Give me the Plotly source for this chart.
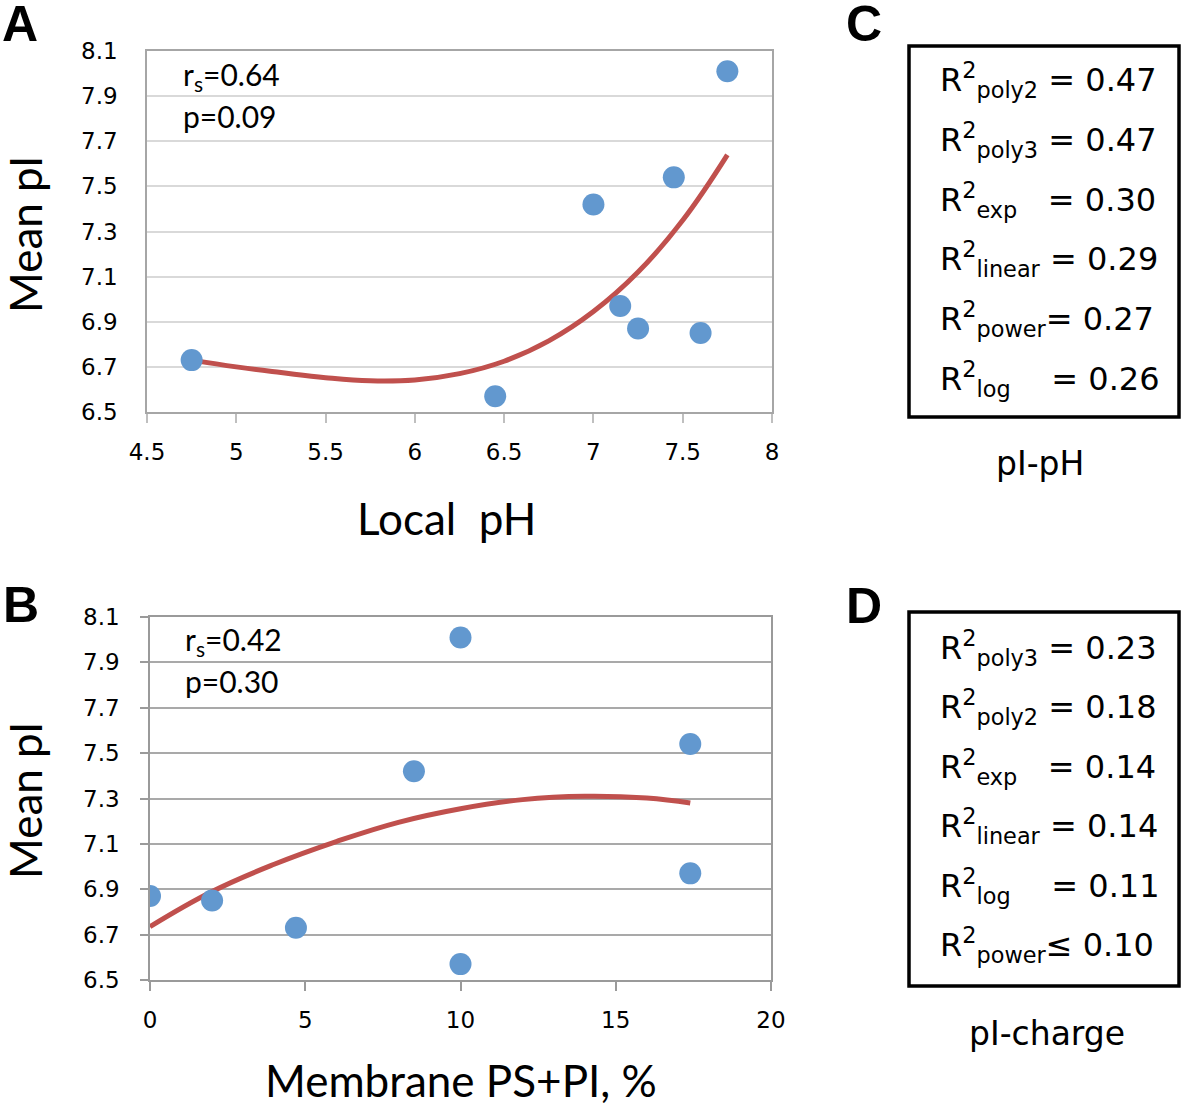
import plotly.graph_objects as go

W, H = 1183, 1107

# ---------------- data ----------------
ph_local = [4.75, 6.45, 7.0, 7.15, 7.25, 7.45, 7.6, 7.75]
pi_mean_a = [6.73, 6.57, 7.42, 6.97, 6.87, 7.54, 6.85, 8.01]
trend_a_x = [4.75, 5.0, 5.25, 5.5, 5.75, 6.0, 6.25, 6.5, 6.75, 7.0, 7.25, 7.5, 7.75]
trend_a_y = [6.73, 6.70, 6.675, 6.652, 6.638, 6.642, 6.67, 6.725, 6.815, 6.945, 7.12, 7.35, 7.64]

ps_pi = [0.0, 2.0, 4.7, 8.5, 10.0, 10.0, 17.4, 17.4]
pi_mean_b = [6.87, 6.85, 6.73, 7.42, 8.01, 6.57, 7.54, 6.97]
trend_b_x = [0.0, 2.0, 4.0, 6.0, 8.0, 10.0, 12.0, 14.0, 16.0, 17.4]
trend_b_y = [6.735, 6.89, 7.01, 7.11, 7.195, 7.255, 7.295, 7.31, 7.302, 7.28]

y_ticks = [6.5, 6.7, 6.9, 7.1, 7.3, 7.5, 7.7, 7.9, 8.1]
y_tick_text = ["6.5", "6.7", "6.9", "7.1", "7.3", "7.5", "7.7", "7.9", "8.1"]
xa_ticks = [4.5, 5, 5.5, 6, 6.5, 7, 7.5, 8]
xa_tick_text = ["4.5", "5", "5.5", "6", "6.5", "7", "7.5", "8"]
xb_ticks = [0, 5, 10, 15, 20]
xb_tick_text = ["0", "5", "10", "15", "20"]

fit_c_names = ["poly2", "poly3", "exp", "linear", "power", "log"]
fit_c_ops = ["=", "=", "=", "=", "=", "="]
fit_c_vals = ["0.47", "0.47", "0.30", "0.29", "0.27", "0.26"]
fit_d_names = ["poly3", "poly2", "exp", "linear", "log", "power"]
fit_d_ops = ["=", "=", "=", "=", "=", "≤"]
fit_d_vals = ["0.23", "0.18", "0.14", "0.14", "0.11", "0.10"]

# ---------------- style ----------------
BLUE = "#6298cf"
RED = "#c0504d"
TICKFONT = dict(family="DejaVu Sans", size=23, color="black")
TITLEFONT = dict(family="Lato", size=44, color="black")


def px(x):
    return x / W


def py(y):
    return 1 - y / H


fig = go.Figure()

# Panel A
fig.add_trace(go.Scatter(x=trend_a_x, y=trend_a_y, mode="lines",
                         line=dict(color=RED, width=5, shape="spline", smoothing=1.2),
                         xaxis="x", yaxis="y", hoverinfo="skip"))
fig.add_trace(go.Scatter(x=ph_local, y=pi_mean_a, mode="markers",
                         marker=dict(color=BLUE, size=22, line=dict(width=0)),
                         xaxis="x", yaxis="y"))
# Panel B
fig.add_trace(go.Scatter(x=trend_b_x, y=trend_b_y, mode="lines",
                         line=dict(color=RED, width=5, shape="spline", smoothing=1.2),
                         xaxis="x2", yaxis="y2", hoverinfo="skip"))
fig.add_trace(go.Scatter(x=ps_pi, y=pi_mean_b, mode="markers",
                         marker=dict(color=BLUE, size=22, line=dict(width=0)),
                         xaxis="x2", yaxis="y2"))

axA_line = "#a6a6a6"
axB_line = "#9a9a9a"

fig.update_layout(
    width=W, height=H,
    margin=dict(l=0, r=0, t=0, b=0, autoexpand=False),
    paper_bgcolor="white", plot_bgcolor="white",
    showlegend=False,
    xaxis=dict(domain=[px(147), px(772)], anchor="y", range=[4.5, 8],
               tickvals=xa_ticks, ticktext=xa_tick_text, tickfont=TICKFONT,
               ticks="outside", ticklen=9, tickwidth=1.5, tickcolor="#bfbfbf",
               showline=True, linecolor=axA_line, linewidth=1.5, mirror=True,
               showgrid=False, zeroline=False, ticklabelstandoff=10, automargin=False),
    yaxis=dict(domain=[py(412), py(51)], anchor="x", range=[6.5, 8.1],
               tickvals=y_ticks, ticktext=y_tick_text, tickfont=TICKFONT,
               ticks="", showline=True, linecolor=axA_line, linewidth=1.5, mirror=True,
               showgrid=True, gridcolor="#d9d9d9", gridwidth=1.5,
               zeroline=False, ticklabelstandoff=23, automargin=False),
    xaxis2=dict(domain=[px(150), px(771)], anchor="y2", range=[0, 20],
                tickvals=xb_ticks, ticktext=xb_tick_text, tickfont=TICKFONT,
                ticks="outside", ticklen=9, tickwidth=1.5, tickcolor=axB_line,
                showline=True, linecolor=axB_line, linewidth=1.5, mirror=True,
                showgrid=False, zeroline=False, ticklabelstandoff=10, automargin=False),
    yaxis2=dict(domain=[py(980), py(617)], anchor="x2", range=[6.5, 8.1],
                tickvals=y_ticks, ticktext=y_tick_text, tickfont=TICKFONT,
                ticks="outside", ticklen=8, tickwidth=1.5, tickcolor=axB_line,
                showline=True, linecolor=axB_line, linewidth=1.5, mirror=True,
                showgrid=True, gridcolor="#a9a9a9", gridwidth=1.5,
                zeroline=False, ticklabelstandoff=16, automargin=False),
)

ann = []


def add_text(text, x, y, font, xanchor="center", yanchor="middle", angle=0):
    ann.append(dict(text=text, x=px(x), y=py(y), xref="paper", yref="paper",
                    xanchor=xanchor, yanchor=yanchor, showarrow=False,
                    font=font, textangle=angle))


LABELFONT = dict(family="Liberation Sans", size=50, color="black", weight="bold")
add_text("<b>A</b>", 0, 24, LABELFONT, xanchor="left")
add_text("<b>B</b>", 1, 605, LABELFONT, xanchor="left")
add_text("<b>C</b>", 844, 24, LABELFONT, xanchor="left")
add_text("<b>D</b>", 844, 606, LABELFONT, xanchor="left")

# axis titles
add_text("Mean pI", 25, 235, TITLEFONT, angle=-90)
add_text("Mean pI", 25, 801, TITLEFONT, angle=-90)
add_text("Local&nbsp;&nbsp;pH", 446, 518, TITLEFONT)
add_text("Membrane PS+PI, %", 461, 1080, TITLEFONT)

# correlation stats
STATFONT = dict(family="Lato", size=30, color="black")
add_text("r<sub>s</sub>=0.64", 181, 76, STATFONT, xanchor="left")
add_text("p=0.09", 181, 116, STATFONT, xanchor="left")
add_text("r<sub>s</sub>=0.42", 183, 641, STATFONT, xanchor="left")
add_text("p=0.30", 183, 681, STATFONT, xanchor="left")

# R^2 boxes
BOXFONT = dict(family="DejaVu Sans", size=32, color="black")
pad = {"poly2": 1, "poly3": 1, "exp": 3, "linear": 1, "power": 0, "log": 4}
rows_c = [80, 140, 200, 259, 319, 379]
rows_d = [648, 707, 767, 826, 886, 945]
for name, op, val, yy in zip(fit_c_names, fit_c_ops, fit_c_vals, rows_c):
    add_text("R<sup>2</sup><sub>%s</sub>%s%s %s" % (name, "&nbsp;" * pad[name], op, val),
             938, yy, BOXFONT, xanchor="left")
for name, op, val, yy in zip(fit_d_names, fit_d_ops, fit_d_vals, rows_d):
    add_text("R<sup>2</sup><sub>%s</sub>%s%s %s" % (name, "&nbsp;" * pad[name], op, val),
             938, yy, BOXFONT, xanchor="left")

CAPFONT = dict(family="DejaVu Sans", size=33, color="black")
add_text("pI-pH", 1040, 463, CAPFONT)
add_text("pI-charge", 1047, 1033, CAPFONT)

fig.update_layout(annotations=ann)

fig.add_shape(type="rect", xref="paper", yref="paper",
              x0=px(909), x1=px(1179), y0=py(417), y1=py(46),
              line=dict(color="black", width=3.5))
fig.add_shape(type="rect", xref="paper", yref="paper",
              x0=px(909), x1=px(1179), y0=py(986), y1=py(612),
              line=dict(color="black", width=3.5))

fig.write_html("out.html", config={"displayModeBar": False},
               post_script="document.body.style.margin='0px';document.body.style.overflow='hidden';")
